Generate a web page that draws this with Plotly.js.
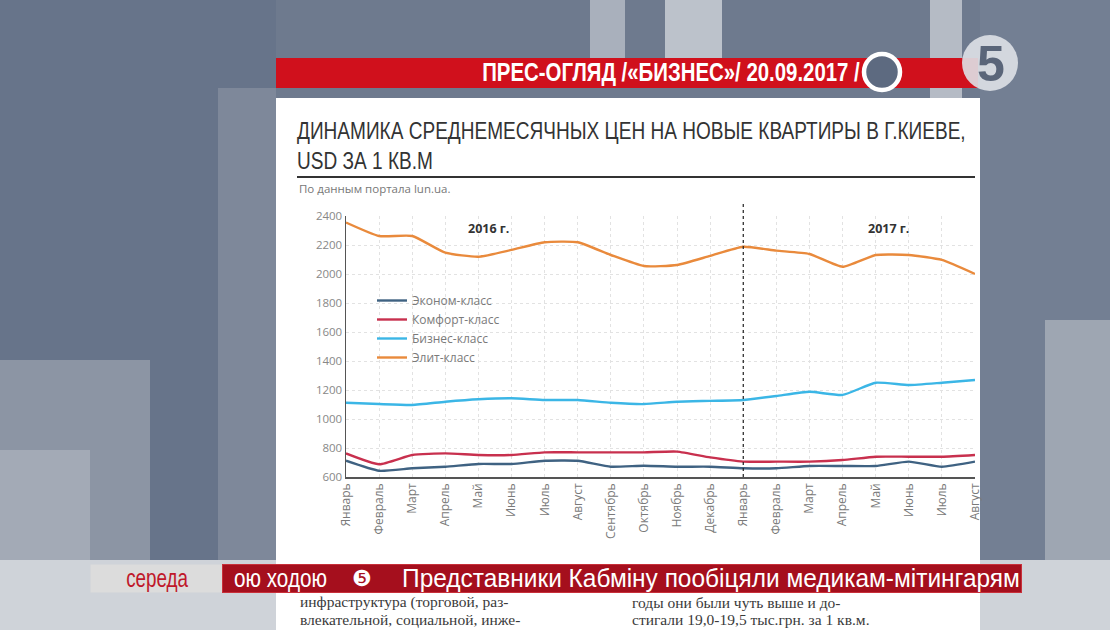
<!DOCTYPE html>
<html><head><meta charset="utf-8">
<script src="https://cdn.plot.ly/plotly-3.0.1.min.js"></script>
<style>html,body{margin:0;padding:0;background:#6e7a8e;}#chart{width:1110px;height:630px;}</style>
</head><body><div id="chart"></div>
<script>
// ---- data ----
const monthIndex = [0,1,2,3,4,5,6,7,8,9,10,11,12,13,14,15,16,17,18,19];
const months = ['Январь','Февраль','Март','Апрель','Май','Июнь','Июль','Август','Сентябрь','Октябрь','Ноябрь','Декабрь',
                'Январь','Февраль','Март','Апрель','Май','Июнь','Июль','Август'];
const seriesNames = ['Эконом-класс','Комфорт-класс','Бизнес-класс','Элит-класс'];
const econom   = [712,643,660,671,690,690,712,712,671,678,671,671,660,660,676,676,676,706,671,706];
const comfort  = [763,688,752,763,752,752,770,770,770,770,775,735,706,706,706,717,740,740,740,752];
const business = [1112,1103,1097,1119,1136,1143,1131,1131,1112,1103,1119,1125,1131,1159,1188,1166,1250,1234,1250,1269];
const elite    = [2355,2262,2262,2147,2119,2166,2219,2219,2131,2055,2062,2125,2188,2161,2138,2050,2131,2131,2097,2000];
const yTicks = [600,800,1000,1200,1400,1600,1800,2000,2200,2400];
const yearLabels = ['2016 г.','2017 г.'];
const yearBreakIndex = 12;

// ---- helpers (pixel -> paper) ----
const L=346, R=975, T=216, B=477;
const px = x => (x-L)/(R-L);
const py = y => (B-y)/(B-T);
function rect(x0,y0,x1,y1,fill){
  return {type:'rect',xref:'paper',yref:'paper',x0:px(x0),x1:px(x1),y0:py(y1),y1:py(y0),
    fillcolor:fill,line:{width:0},layer:'below'};
}
const COND = 'Liberation Sans, Arial, sans-serif';

const colors = ['#3f6282','#c8304e','#3bb6e6','#e98a3c'];
const values = [econom, comfort, business, elite];
const traces = values.map((v,i)=>({
  type:'scatter', mode:'lines', name:seriesNames[i], x:monthIndex, y:v,
  line:{color:colors[i], width:2.4, shape:'spline', smoothing:0.5},
  hoverinfo:'skip'
}));

const shapes = [
  rect(0,0,276,560,'#67748a'),
  rect(0,360,150,560,'#8c95a4'),
  rect(0,450,90,560,'#a3aab6'),
  rect(218,88,276,560,'#7e889a'),
  rect(590,0,625,58,'#a9b0bc'),
  rect(665,0,722,58,'#bcc2cb'),
  rect(930,0,962,100,'#b5bbc5'),
  rect(980,0,1110,560,'#737f93'),
  rect(1045,320,1110,560,'#9ea6b2'),
  rect(0,560,1110,630,'#cfd3d9'),
  rect(276,98,980,630,'#ffffff'),
  rect(276,58,978,88,'#d0101c'),
  {type:'line',xref:'paper',yref:'paper',x0:px(297),x1:px(975),y0:py(177),y1:py(177),line:{color:'#333',width:2},layer:'below'},
  {type:'circle',xref:'paper',yref:'paper',x0:px(864),x1:px(900),y0:py(90),y1:py(54),fillcolor:'#5d6a80',line:{color:'#ffffff',width:4.5},layer:'above'},
  {type:'circle',xref:'paper',yref:'paper',x0:px(962),x1:px(1018),y0:py(91),y1:py(35),fillcolor:'rgba(222,225,231,0.9)',line:{width:0},layer:'above'},
  {type:'line',xref:'x',yref:'paper',x0:yearBreakIndex,x1:yearBreakIndex,y0:0,y1:py(204),line:{color:'#222',width:1.2,dash:'dot'},layer:'above'}
];

const serif = {family:'Liberation Serif, DejaVu Serif',size:15.5,color:'#3a3a3a'};
const annotations = [
  // 0 banner
  {xref:'paper',yref:'paper',x:px(480),y:py(72),xanchor:'left',yanchor:'middle',showarrow:false,
   text:'<b>ПРЕС-ОГЛЯД /«БИЗНЕС»/ 20.09.2017 /</b>',font:{family:COND,size:25,color:'#ffffff'}},
  // 1 logo
  {xref:'paper',yref:'paper',x:px(991),y:py(64),xanchor:'center',yanchor:'middle',showarrow:false,
   text:'<b>5</b>',font:{family:'Liberation Sans, Arial',size:50,color:'#5a6579'}},
  // 2 source
  {xref:'paper',yref:'paper',x:px(297),y:py(188),xanchor:'left',yanchor:'middle',showarrow:false,
   text:'По данным портала lun.ua.',font:{family:'Open Sans, Roboto',size:11.5,color:'#777'}},
  // 3,4 years
  {xref:'x',yref:'paper',x:4.3,y:py(228),xanchor:'center',yanchor:'middle',showarrow:false,
   text:'<b>'+yearLabels[0]+'</b>',font:{family:'Open Sans, Roboto',size:12.5,color:'#333'}},
  {xref:'x',yref:'paper',x:16.4,y:py(228),xanchor:'center',yanchor:'middle',showarrow:false,
   text:'<b>'+yearLabels[1]+'</b>',font:{family:'Open Sans, Roboto',size:12.5,color:'#333'}},
  // 5-8 newspaper text
  {xref:'paper',yref:'paper',x:px(298),y:py(602),xanchor:'left',yanchor:'middle',showarrow:false,
   text:'инфраструктура (торговой, раз-',font:serif},
  {xref:'paper',yref:'paper',x:px(298),y:py(619),xanchor:'left',yanchor:'middle',showarrow:false,
   text:'влекательной, социальной, инже-',font:serif},
  {xref:'paper',yref:'paper',x:px(630),y:py(602),xanchor:'left',yanchor:'middle',showarrow:false,
   text:'годы они были чуть выше и до-',font:serif},
  {xref:'paper',yref:'paper',x:px(630),y:py(619),xanchor:'left',yanchor:'middle',showarrow:false,
   text:'стигали 19,0-19,5 тыс.грн. за 1 кв.м.',font:serif},
  // 9,10 ticker bands
  {xref:'paper',yref:'paper',x:px(90),y:py(578.5),xanchor:'left',yanchor:'middle',showarrow:false,
   text:'\u00a0',width:132,height:27,bgcolor:'#dcdcdc',borderpad:0,font:{size:10}},
  {xref:'paper',yref:'paper',x:px(222),y:py(578.5),xanchor:'left',yanchor:'middle',showarrow:false,
   text:'\u00a0',width:798,height:27,bgcolor:'#a50f1d',bordercolor:'#c8303a',borderwidth:1,borderpad:0,font:{size:10}},
  // 11-14 ticker texts
  {xref:'paper',yref:'paper',x:px(157),y:py(578),xanchor:'center',yanchor:'middle',showarrow:false,
   text:'середа',font:{family:COND,size:25,color:'#c0182a'}},
  {xref:'paper',yref:'paper',x:px(232),y:py(578),xanchor:'left',yanchor:'middle',showarrow:false,
   text:'ою ходою',font:{family:COND,size:25,color:'#ffffff'}},
  {xref:'paper',yref:'paper',x:px(362),y:py(578),xanchor:'center',yanchor:'middle',showarrow:false,
   text:'\u277A',font:{family:'DejaVu Sans',size:22,color:'#ffffff'}},
  {xref:'paper',yref:'paper',x:px(400),y:py(578),xanchor:'left',yanchor:'middle',showarrow:false,
   text:'Представники Кабміну пообіцяли медикам-мітингарям',font:{family:COND,size:25,color:'#ffffff'}}
];

const layout = {
  width:1110, height:630,
  margin:{l:L, r:1110-R, t:T, b:630-B, pad:0},
  paper_bgcolor:'#6e7a8e', plot_bgcolor:'rgba(0,0,0,0)',
  title:{text:'ДИНАМИКА СРЕДНЕМЕСЯЧНЫХ ЦЕН НА НОВЫЕ КВАРТИРЫ В Г.КИЕВЕ,<br>USD ЗА 1 КВ.М',
    xref:'container', yref:'container', x:297/1110, xanchor:'left', y:1-139/630, yanchor:'top',
    font:{family:COND, size:23, color:'#333'}},
  showlegend:true,
  legend:{x:px(372), y:py(286), xanchor:'left', yanchor:'top', bgcolor:'rgba(0,0,0,0)',
    font:{family:'Open Sans, Roboto', size:12, color:'#7a7a7a'}, itemwidth:30, tracegroupgap:0},
  xaxis:{range:[0,19], tickmode:'array', tickvals:monthIndex, ticktext:months, tickangle:-90,
    showgrid:true, gridcolor:'#e2e2e2', griddash:'dot', gridwidth:1,
    showline:true, linecolor:'#555', linewidth:1.5, ticks:'', zeroline:false,
    tickfont:{family:'Open Sans, Roboto', size:12, color:'#7a7a7a'}},
  yaxis:{range:[600,2400], tickmode:'array', tickvals:yTicks,
    showgrid:true, gridcolor:'#e2e2e2', griddash:'dot', gridwidth:1,
    showline:true, linecolor:'#555', linewidth:1.5, ticks:'', zeroline:false,
    tickfont:{family:'Open Sans, Roboto', size:11.5, color:'#888'}},
  shapes:shapes, annotations:annotations
};

function fit(el, targetW, anchor){
  if(!el) return;
  const bb = el.getBBox();
  if(!bb.width) return;
  const f = targetW/bb.width;
  const x0 = anchor==='left' ? bb.x : (anchor==='center' ? bb.x+bb.width/2 : bb.x+bb.width);
  const prev = el.getAttribute('transform') || '';
  el.setAttribute('transform', prev+' translate('+(x0*(1-f))+',0) scale('+f+',1)');
}
function annText(i){ return document.querySelector('g.annotation[data-index="'+i+'"] text.annotation-text'); }

Plotly.newPlot('chart', traces, layout, {displayModeBar:false, staticPlot:true}).then(()=>{
  fit(annText(0), 378, 'left');
  fit(document.querySelector('text.gtitle'), 669, 'left');
  fit(annText(11), 62, 'center');
  fit(annText(12), 93, 'left');
  fit(annText(14), 618, 'left');
});
</script></body></html>
